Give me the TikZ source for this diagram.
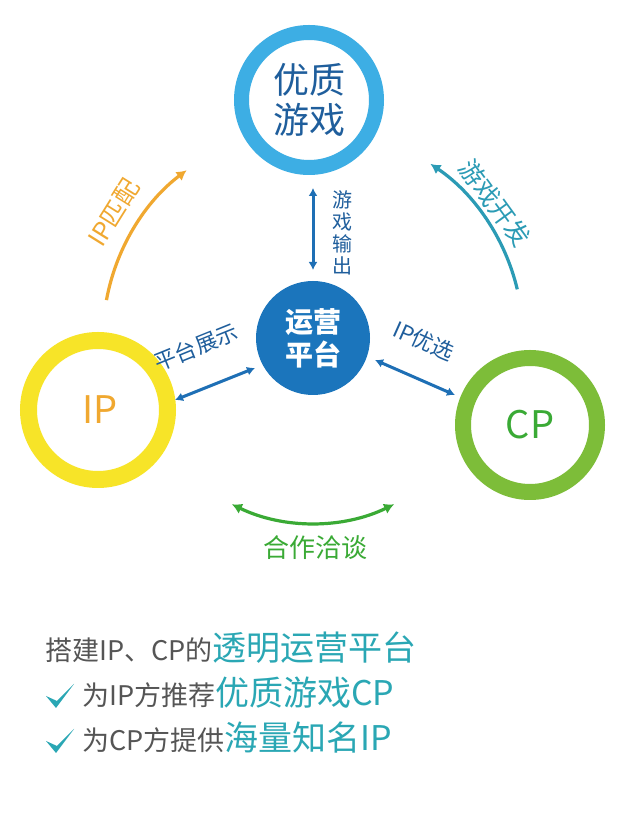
\documentclass[tikz,border=0pt]{standalone}
\usepackage{fontspec}
\setmainfont{Noto Sans CJK SC}
\usetikzlibrary{arrows.meta}
\definecolor{topblue}{HTML}{3DAEE4}
\definecolor{midblue}{HTML}{1B75BC}
\definecolor{ipyellow}{HTML}{F7E428}
\definecolor{cpgreen}{HTML}{7DBD39}
\definecolor{arcorange}{HTML}{F0A830}
\definecolor{arcteal}{HTML}{2B9BB5}
\definecolor{txtteal}{HTML}{2AA7B4}
\definecolor{txtgray}{HTML}{555555}
\definecolor{arrblue}{HTML}{1E6FB5}
\definecolor{lblblue}{HTML}{1F5E9C}
\definecolor{grn}{HTML}{3AAA35}
\tikzset{
 dbl/.style={arrblue,line width=3pt,{Latex[length=8pt,width=9pt]}-{Latex[length=8pt,width=9pt]}},
 arcline/.style={line width=3.2pt,-{Latex[length=10pt,width=11pt]}},
 lbl/.style={lblblue,font=\fontsize{22}{22}\selectfont,inner sep=0pt}
}
\begin{document}
\begin{tikzpicture}[x=1pt,y=1pt]
\useasboundingbox (0,0) rectangle (621,825);
\fill[white] (0,0) rectangle (621,825);
% circles
\draw[topblue,line width=15pt] (309,725) circle (67.5);
\node[align=center,lblblue,font=\fontsize{36}{40}\selectfont] (top) at (309,725) {优质\\游戏};
\fill[midblue] (313,487) circle (57);
\node[align=center,white,font=\bfseries\fontsize{28}{33}\selectfont] (mid) at (313,487) {运营\\平台};
\draw[ipyellow,line width=17pt] (98,415) circle (69.5);
\node[arcorange,font=\fontsize{38}{38}\selectfont] (ip) at (100,415) {IP};
\draw[cpgreen,line width=16pt] (530,400) circle (67);
\node[grn,font=\fontsize{38}{38}\selectfont] (cp) at (530,400) {CP};
% connectors
\coordinate (v1) at (313,637); \coordinate (v2) at (313,555);
\draw[dbl] (v1) -- (v2);
\node[lbl,align=center,font=\fontsize{20}{22}\selectfont] (l1) at (342,592) {游\\戏\\输\\出};
\coordinate (a1) at (175,425); \coordinate (a2) at (255,457);
\draw[dbl] (a1) -- (a2);
\node[lbl,rotate=22] (l2) at (196,478) {平台展示};
\coordinate (b1) at (375,465); \coordinate (b2) at (455,430);
\draw[dbl] (b1) -- (b2);
\node[lbl,rotate=-24] (l3) at (424,484) {IP优选};
% arcs
\draw[arcline,arcorange] (313,487) ++(169.6:210) arc (169.6:127:210);
\node[arcorange,rotate=58,font=\fontsize{25}{25}\selectfont] (l4) at (114,612) {IP匹配};
\draw[arcline,arcteal] (313,487) ++(13.4:210) arc (13.4:56:210);
\node[arcteal,rotate=-54,font=\fontsize{25}{25}\selectfont] (l5) at (495,622) {游戏开发};
\draw[grn,line width=3.2pt,{Latex[length=10pt,width=11pt]}-{Latex[length=10pt,width=11pt]}] (313,487) ++(-116:185) arc (-116:-64:185);
\node[grn,font=\fontsize{26}{26}\selectfont] (l6) at (315,277) {合作洽谈};
% bottom text
\node[anchor=base west,inner sep=0pt,txtgray,font=\fontsize{27}{27}\selectfont] (t1) at (45,164) {搭建IP、CP的{\color{txtteal}\fontsize{34}{34}\selectfont 透明运营平台}};
\node[anchor=base west,inner sep=0pt,txtgray,font=\fontsize{27}{27}\selectfont] (t2) at (82,119) {为IP方推荐{\color{txtteal}\fontsize{34}{34}\selectfont 优质游戏CP}};
\node[anchor=base west,inner sep=0pt,txtgray,font=\fontsize{27}{27}\selectfont] (t3) at (82,74) {为CP方提供{\color{txtteal}\fontsize{34}{34}\selectfont 海量知名IP}};
\foreach \yy in {119,74}{
 \fill[txtteal] (46,\yy+10) -- (56,\yy-2) -- (74,\yy+22) -- (57,\yy+5) -- cycle;
}
\end{tikzpicture}
\end{document}
